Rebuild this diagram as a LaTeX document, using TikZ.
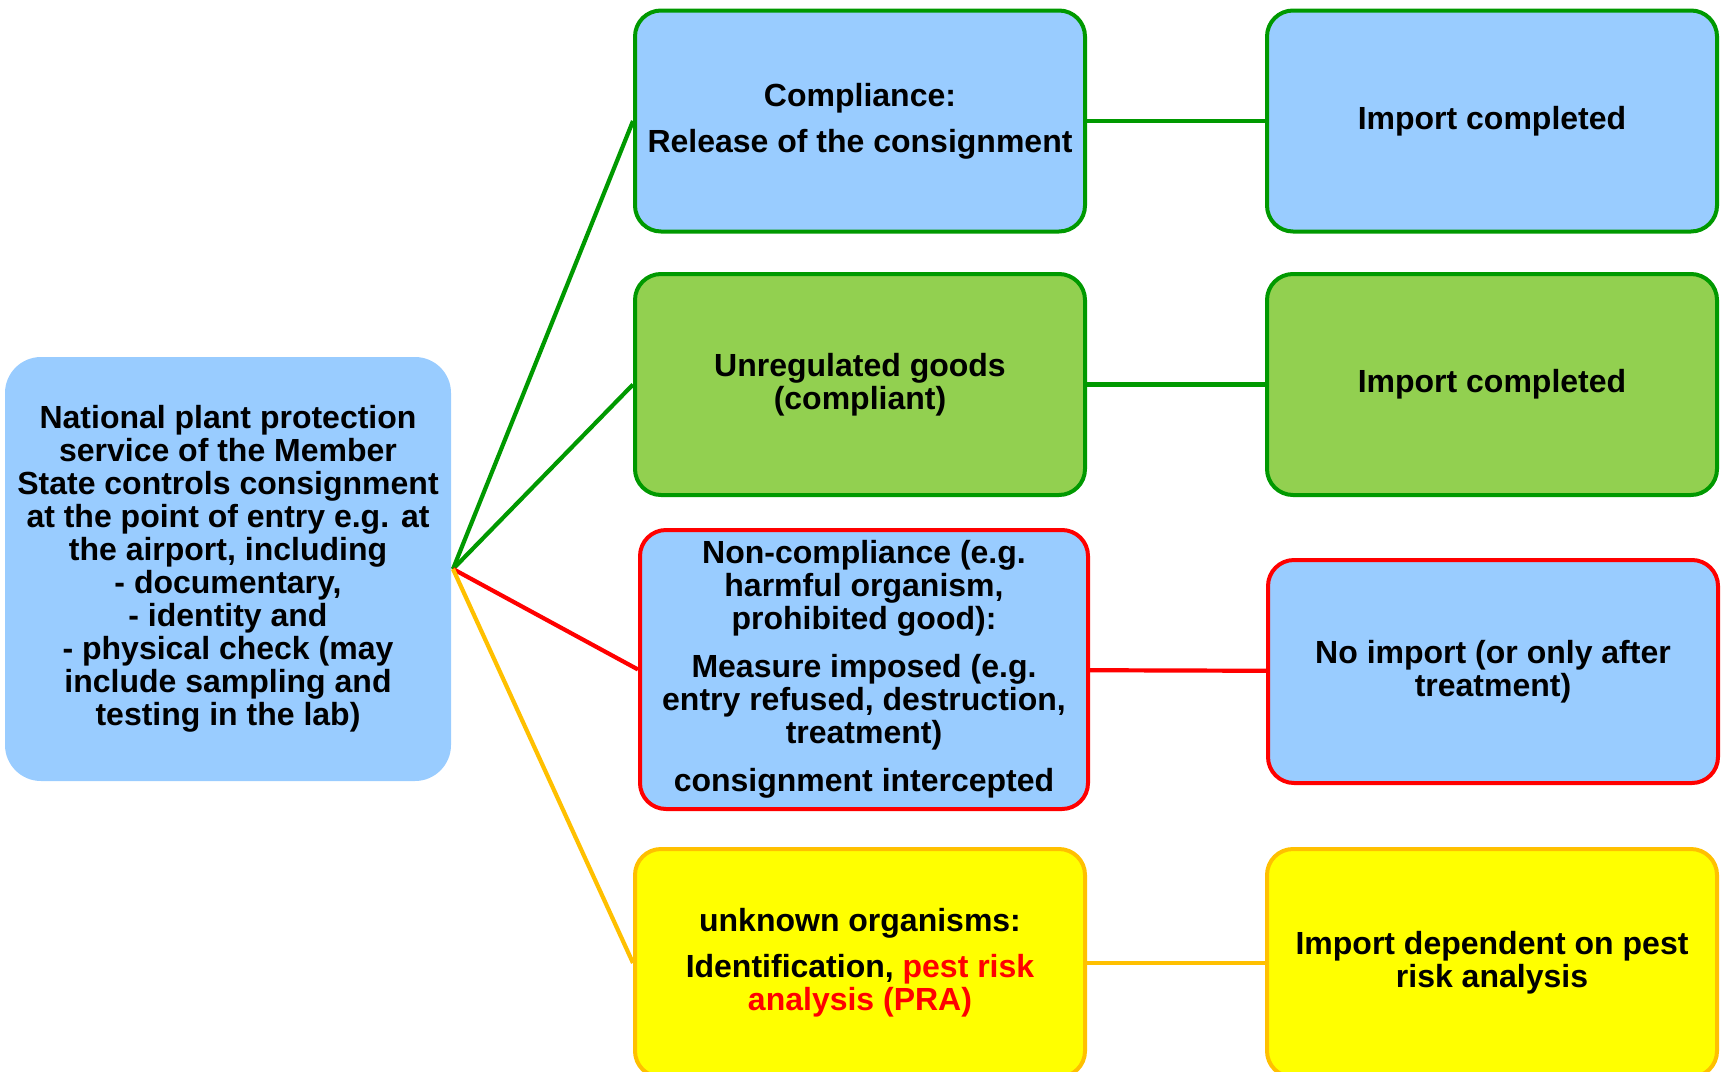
\documentclass[tikz,border=0pt]{standalone}
\usepackage{fontspec}
\setmainfont{Liberation Sans}
\definecolor{lightblue}{HTML}{99CCFF}
\definecolor{leafgreen}{HTML}{92D050}
\definecolor{darkgreen}{HTML}{009900}
\definecolor{gold}{HTML}{FFC000}
\definecolor{brightyellow}{HTML}{FFFF00}
\tikzset{box/.style={rounded corners=26pt, line width=4pt, inner sep=0pt, align=center,
  minimum width=450pt, minimum height=221pt, font=\fontsize{32}{33}\selectfont\bfseries}}
\tikzset{link/.style={line width=4.2pt}}

\begin{document}
\begin{tikzpicture}[x=1pt,y=-1pt]
      \useasboundingbox (0,0) rectangle (1721,1071);

      \node [box, fill=lightblue, minimum width=446pt, minimum height=424pt, rounded corners=36pt] (control) at (228, 569)
        {National plant protection\\ service of the Member\\ State controls consignment\\ at the point of entry e.g. at\\
         the airport, including\\ - documentary,\\ - identity and\\ - physical check (may\\ include sampling and\\ testing in the lab)};

      \node [box, draw=darkgreen, fill=lightblue] (comply) at (860, 121) {Compliance:\\[13pt] Release of the consignment};
      \node [box, draw=darkgreen, fill=leafgreen] (unreg) at (860, 384.5) {Unregulated goods\\ (compliant)};
      \node [box, draw=red, fill=lightblue, minimum width=448pt, minimum height=279pt] (noncomply) at (864, 669.5)
        {Non-compliance (e.g.\\ harmful organism,\\ prohibited good):\\[15pt] Measure imposed (e.g.\\ entry refused, destruction,\\ treatment)\\[15pt] consignment intercepted};
      \node [box, draw=gold, fill=brightyellow, minimum height=228pt] (unknown) at (860, 963)
        {unknown organisms:\\[13pt] Identification, \textcolor{red}{pest risk}\\ \textcolor{red}{analysis (PRA)}};

      \node [box, draw=darkgreen, fill=lightblue] (import1) at (1492, 121) {Import completed};
      \node [box, draw=darkgreen, fill=leafgreen] (import2) at (1492, 384.5) {Import completed};
      \node [box, draw=red, fill=lightblue, minimum height=223pt] (noimport) at (1493, 671.5) {No import (or only after\\ treatment)};
      \node [box, draw=gold, fill=brightyellow, minimum height=228pt] (depend) at (1492, 963) {Import dependent on pest\\ risk analysis};

      \draw [link, darkgreen] (control.east) -- (comply.west);
      \draw [link, darkgreen] (control.east) -- (unreg.west);
      \draw [link, red] (control.east) -- (noncomply.west);
      \draw [link, gold] (control.east) -- (unknown.west);

      \draw [link, darkgreen] (comply.east) -- (import1.west);
      \draw [link, darkgreen] (unreg.east) -- (import2.west);
      \draw [link, red] (noncomply) -- (noimport);
      \draw [link, gold] (unknown.east) -- (depend.west);
    \end{tikzpicture}
\end{document}
